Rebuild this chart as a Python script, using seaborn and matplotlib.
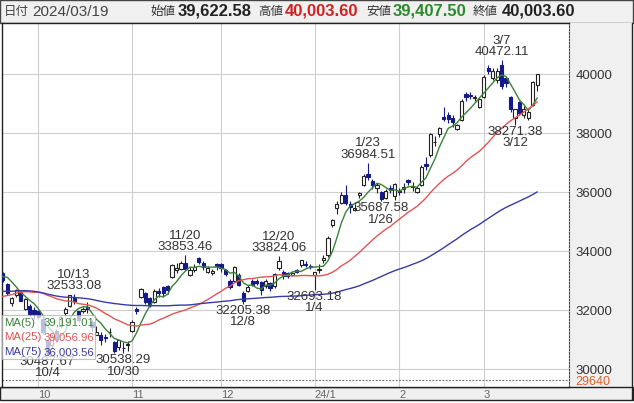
import numpy as np
import pandas as pd
import seaborn as sns
import matplotlib.pyplot as plt
from matplotlib.patches import Rectangle
from matplotlib.lines import Line2D

# ================= data (Nikkei 225 daily) =================

month_names = ["2023-09", "2023-10", "2023-11", "2023-12", "2024-01", "2024-02", "2024-03"]
trade_days = [
    [19, 20, 21, 22, 25, 26, 27, 28, 29],
    [2, 3, 4, 5, 6, 10, 11, 12, 13, 16, 17, 18, 19, 20, 23, 24, 25, 26, 27, 30, 31],
    [1, 2, 6, 7, 8, 9, 10, 13, 14, 15, 16, 17, 20, 21, 22, 24, 27, 28, 29, 30],
    [1, 4, 5, 6, 7, 8, 11, 12, 13, 14, 15, 18, 19, 20, 21, 22, 25, 26, 27, 28, 29],
    [4, 5, 9, 10, 11, 12, 15, 16, 17, 18, 19, 22, 23, 24, 25, 26, 29, 30, 31],
    [1, 2, 5, 6, 7, 8, 9, 13, 14, 15, 16, 19, 20, 21, 22, 26, 27, 28, 29],
    [1, 4, 5, 6, 7, 8, 11, 12, 13, 14, 15, 18, 19],
]
month_labels = ["10", "11", "12", "24/1", "2", "3"]

opens = [
    33300, 33250, 32880, 32250, 32500, 32600, 32050, 32150, 32000,
    31950, 31700, 30950, 30800, 31300, 31450, 31900, 32150, 32420, 31950, 31950,
    32100, 31600, 31150, 31150, 31100, 31250, 30920, 30750, 30700, 30800,
    31300, 32050, 32440, 32580, 32400, 32270, 32650, 32780, 32800, 33120,
    33350, 33400, 33600, 33200, 33350, 33760, 33600, 33300, 33250, 33550,
    33550, 33350, 33000, 33000, 33200, 32580, 32650, 33000, 32980, 32950, 32800,
    32900, 32800, 33420, 33300, 33250, 33200, 33350, 33520, 33560, 33480,
    33193, 33350, 33700, 33860, 34880, 35460, 35630, 35900, 35600, 35390,
    35900, 36240, 36610, 36370, 36150, 36000, 35800, 36150, 35850,
    36050, 36100, 36400, 36200, 36000, 36250, 36950, 37250, 37700, 37970,
    38540, 38600, 38500, 38140, 38450, 39320, 39290, 39200, 38880,
    39220, 40200, 39860, 39800, 40300, 39860, 39230, 38520, 39050, 38620,
    38520, 38950, 39622.58,
]
highs = [
    33400, 33300, 32900, 32450, 32700, 32650, 32400, 32200, 32100,
    32000, 31800, 30990, 31200, 31350, 31800, 32100, 32500, 32533.08, 31980, 32100,
    32260, 31650, 31450, 31250, 31200, 31400, 30950, 31000, 30900, 30950,
    31650, 32100, 32750, 32600, 32450, 32700, 32750, 32800, 32850, 33550,
    33600, 33650, 33853.46, 33450, 33550, 33800, 33650, 33500, 33400, 33600,
    33600, 33400, 33050, 33480, 33250, 32650, 32850, 33050, 33050, 32980, 33050,
    32950, 33250, 33824.06, 33350, 33300, 33300, 33400, 33700, 33650, 33550,
    33300, 33570, 33850, 34500, 35100, 35700, 36000, 36239, 35700, 35600,
    36000, 36600, 36984.51, 36450, 36300, 36050, 36100, 36250, 36300,
    36150, 36300, 36450, 36350, 36200, 36900, 37200, 37990, 37900, 38200,
    38865, 38700, 38600, 38300, 39150, 39400, 39400, 39300, 39200,
    39950, 40300, 40200, 40200, 40472.11, 39900, 39250, 38800, 39100, 38900,
    38800, 39750, 40003.60,
]
lows = [
    33100, 32950, 32500, 32150, 32450, 32300, 32000, 31800, 31700,
    31700, 31200, 30487.67, 30700, 30900, 31400, 31800, 32100, 32200, 31600, 31900,
    31900, 31300, 31150, 30800, 30900, 31100, 30550, 30650, 30538.29, 30600,
    31250, 31850, 32400, 32200, 32100, 32250, 32450, 32450, 32550, 33100,
    33250, 33350, 33350, 33150, 33300, 33550, 33350, 33250, 33200, 33350,
    33300, 33150, 32700, 32950, 32800, 32205.38, 32600, 32800, 32850, 32500, 32750,
    32650, 32750, 33350, 33050, 33100, 33150, 33250, 33450, 33450, 33400,
    32693.18, 33250, 33600, 33800, 34800, 35250, 35600, 35550, 35300, 35350,
    35800, 36200, 36400, 36100, 35950, 35687.58, 35750, 35950, 35733,
    35900, 35950, 36250, 36050, 35950, 36200, 36750, 37200, 37550, 37850,
    38400, 38350, 38200, 38100, 38400, 39100, 39150, 39100, 38850,
    39200, 40000, 39800, 39700, 39500, 39550, 38700, 38271.38, 38600, 38500,
    38450, 38900, 39407.50,
]
closes = [
    33242, 33023, 32571, 32402, 32678, 32315, 32371, 31872, 31857,
    31759, 31238, 30526, 31075, 30994, 31746, 32040, 32494, 32315, 31659, 32040,
    32042, 31430, 31259, 30999, 31062, 31269, 30601, 30991, 30696, 30858,
    31601, 31950, 32708, 32272, 32166, 32646, 32568, 32585, 32695, 33519,
    33424, 33585, 33388, 33354, 33451, 33625, 33447, 33408, 33321, 33486,
    33431, 33231, 32776, 33445, 32858, 32307, 32791, 32843, 32926, 32686, 32970,
    32758, 33219, 33675, 33140, 33169, 33255, 33305, 33681, 33539, 33464,
    33288, 33377, 33763, 34441, 35049, 35577, 35901, 35619, 35477, 35466,
    35963, 36546, 36517, 36226, 36236, 35751, 36026, 36065, 36286,
    36011, 36158, 36354, 36160, 36119, 36863, 36897, 37963, 37703, 38157,
    38487, 38470, 38363, 38262, 39098, 39233, 39239, 39208, 39166,
    39910, 40109, 40097, 40090, 39598, 39688, 38820, 38797, 38695, 38807,
    38707, 39740, 40003.60,
]
# closes before the visible range (2023/06/01 - 09/15), only for the moving averages
prior_closes = [
    31148, 31524, 32217, 32506, 31913, 31641, 32265, 32434, 33018, 33502, 33485,
    33706, 33370, 33388, 33575, 33264, 32781, 32698, 32538, 33193, 33234, 33189,
    33753, 33422, 33338, 32773, 32388, 32189, 32203, 31943, 32419, 32391,
    32493, 32896, 32490, 32304, 32700, 32682, 32668, 32891, 32759, 33172,
    33476, 32707, 32159, 32192, 32254, 32377, 32204, 32473, 32059, 32238, 31766,
    31626, 31450, 31565, 31856, 32010, 32287, 31624, 32169, 32227, 32333, 32619,
    32710, 32939, 32745, 33036, 32991, 32606, 32467, 32776, 32707, 33168, 33533,
]
peak_dates = ["10/13", "11/20", "12/20", "1/23", "3/7"]
trough_dates = ["10/4", "10/30", "12/8", "1/4", "1/26", "3/12"]
ma_windows = [5, 25, 75]
ma_latest = [39191.01, 39056.96, 36003.56]   # values shown in the legend box
y_ticks = [30000, 32000, 34000, 36000, 38000, 40000]
floor_value = 29640

# ================= build frame =================
rows = []
for m, ds in zip(month_names, trade_days):
    for d in ds:
        rows.append(pd.Timestamp(f"{m}-{d:02d}"))
df = pd.DataFrame({"date": rows, "open": opens, "high": highs, "low": lows, "close": closes})
df["idx"] = np.arange(len(df))
df["md"] = df["date"].dt.month.astype(str) + "/" + df["date"].dt.day.astype(str)

all_close = pd.Series(prior_closes + closes)
for w in ma_windows:
    df[f"ma{w}"] = all_close.rolling(w).mean().iloc[len(prior_closes):].values

month_start = df.groupby(df["date"].dt.to_period("M"))["idx"].min().values[1:]

# ================= style =================
sns.set_style("white")
plt.rcParams["font.family"] = ["Liberation Sans", "Noto Sans CJK JP"]

W, H = 634, 403
fig = plt.figure(figsize=(W / 100, H / 100), dpi=100)


def fr(x0, y0, x1, y1):
    return [x0 / W, 1 - y1 / H, (x1 - x0) / W, (y1 - y0) / H]


def box(x0, y0, x1, y1, **kw):
    r = Rectangle((x0 / W, 1 - y1 / H), (x1 - x0) / W, (y1 - y0) / H,
                  transform=fig.transFigure, **kw)
    fig.add_artist(r)


def ftext(x, y, s, **kw):
    fig.text(x / W, 1 - y / H, s, **kw)


ax = fig.add_axes(fr(2, 23, 569, 387))

# gray panels: header, right scale, bottom axis band
box(0, 0, 633, 23, facecolor="#f0f0f0", edgecolor="#444", lw=1, zorder=0)
box(569, 23, 632, 387, facecolor="#f0f0f0", edgecolor="none", zorder=0)
box(0, 387, 633, 400, facecolor="#f0f0f0", edgecolor="#222", lw=1, zorder=0)
fig.add_artist(Line2D([632 / W, 632 / W], [1 - 23 / H, 1 - 400 / H],
                      transform=fig.transFigure, color="#222", lw=1))

navy = "#141a8a"
up = df["close"] >= df["open"]
dn = ~up
body_lo = np.minimum(df["open"], df["close"])
body_h = np.maximum((df["close"] - df["open"]).abs(), 6)

ax.vlines(df["idx"][up], df["low"][up], df["high"][up], color="#222", lw=0.8, zorder=2)
ax.vlines(df["idx"][dn], df["low"][dn], df["high"][dn], color=navy, lw=0.8, zorder=2)
ax.bar(df["idx"][up], body_h[up], bottom=body_lo[up], width=0.72,
       facecolor="white", edgecolor="#222", linewidth=0.8, zorder=3)
ax.bar(df["idx"][dn], body_h[dn], bottom=body_lo[dn], width=0.72,
       facecolor=navy, edgecolor=navy, linewidth=0.8, zorder=3)

ma_colors = {5: "#3a823a", 25: "#e05555", 75: "#3a3aa6"}
for w in ma_windows:
    sns.lineplot(x=df["idx"], y=df[f"ma{w}"], color=ma_colors[w], linewidth=1.0,
                 ax=ax, legend=False, zorder=4)

# high / low labels
for md in peak_dates:
    r = df[df["md"] == md].iloc[0]
    ax.annotate(f"{r['high']:.2f}", (r["idx"], r["high"]), xytext=(0, 2),
                textcoords="offset pixels", ha="center", va="bottom",
                fontsize=9.5, color="#333", zorder=6)
    ax.annotate(md, (r["idx"], r["high"]), xytext=(0, 13.5),
                textcoords="offset pixels", ha="center", va="bottom",
                fontsize=9.5, color="#333", zorder=6)
for md in trough_dates:
    r = df[df["md"] == md].iloc[0]
    ax.annotate(f"{r['low']:.2f}", (r["idx"], r["low"]), xytext=(0, -1),
                textcoords="offset pixels", ha="center", va="top",
                fontsize=9.5, color="#333", zorder=6)
    ax.annotate(md, (r["idx"], r["low"]), xytext=(0, -12.5),
                textcoords="offset pixels", ha="center", va="top",
                fontsize=9.5, color="#333", zorder=6)

ax.axhline(floor_value, color="#666", lw=0.8, ls=(0, (1.5, 1.5)), zorder=1)

# axes, grid
px_per_slot = 4.453
x_left = 9 - (38.5 - 2) / px_per_slot
x_right = 9 + (569 - 38.5) / px_per_slot
ax.set_xlim(x_left, x_right)
ax.set_ylim(29390, 41729)
ax.set_xticks(month_start)
ax.set_xticklabels(month_labels)
ax.set_yticks(y_ticks)
ax.set_yticklabels([str(v) for v in y_ticks])
ax.yaxis.tick_right()
ax.tick_params(axis="y", length=0, pad=4.5, labelsize=9.5, labelcolor="#333")
ax.tick_params(axis="x", length=0, pad=2.5, labelsize=8, labelcolor="#666")
for lab in ax.get_xticklabels():
    lab.set_ha("left")
ax.grid(True, color="#cfcfcf", lw=0.8, zorder=0)
ax.set_axisbelow(True)
ax.set_xlabel("")
ax.set_ylabel("")
for s in ["top", "bottom", "left"]:
    ax.spines[s].set_color("#222")
    ax.spines[s].set_linewidth(1)
ax.spines["right"].set_color("#444")
ax.spines["right"].set_linestyle((0, (1.5, 1.5)))
ax.spines["right"].set_linewidth(0.8)

ftext(575, 382, str(floor_value), fontsize=9, color="#e0602a", va="center")

# MA legend box
box(2, 315, 95, 359, facecolor="white", alpha=0.72, edgecolor="#aaa", lw=0.8, zorder=5)
last = df.iloc[-1]
for k, (w, v) in enumerate(zip(ma_windows, ma_latest)):
    yy = 322.5 + k * 14.8
    ftext(4, yy, f"MA({w})", fontsize=8.2, color=ma_colors[w], va="center", zorder=6)
    ftext(94, yy, f"{v:,.2f}", fontsize=8.2, color=ma_colors[w],
          va="center", ha="right", zorder=6)

# header
hdr_y = 11.5
ftext(4, hdr_y, "日付", fontsize=9, color="#444", va="center")
ftext(32, hdr_y, last["date"].strftime("%Y/%m/%d"), fontsize=11, color="#444", va="center")
hdr = [("始値", last["open"], "#222", 150, 178), ("高値", last["high"], "#d42020", 258, 285),
       ("安値", last["low"], "#2a8a2a", 366, 393), ("終値", last["close"], "#222", 473, 502)]
for name, val, col, xl, xv in hdr:
    ftext(xl, hdr_y, name, fontsize=9, color="#333", va="center")
    ftext(xv, hdr_y, f"{val:,.2f}", fontsize=12, fontweight="bold", color=col, va="center")

fig.savefig("out.png", dpi=100)
